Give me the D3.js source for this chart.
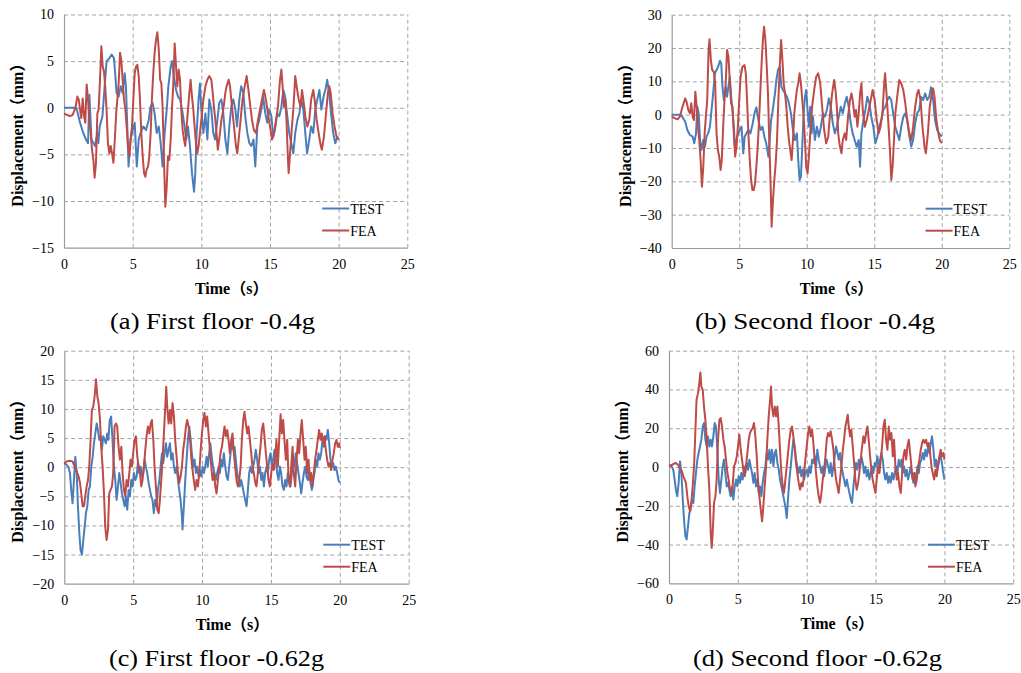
<!DOCTYPE html>
<html lang="en">
<head>
<meta charset="utf-8">
<title>Displacement time histories: TEST vs FEA</title>
<script type="text/javascript" src="https://cdn.jsdelivr.net/npm/d3@7/dist/d3.min.js"></script>
<style type="text/css">
  body { margin: 0; background: #fff; }
  svg text { font-family: "Liberation Serif", "Times New Roman", "Noto Sans CJK SC", serif; fill: #000; }
</style>
</head>
<body>
<script type="text/javascript">

//Series names and tick labels
var seriesNames = ["TEST", "FEA"];
var xTicks = [0, 5, 10, 15, 20, 25];
var yTicksA = [-15, -10, -5, 0, 5, 10];
var yTicksB = [-40, -30, -20, -10, 0, 10, 20, 30];
var yTicksC = [-20, -15, -10, -5, 0, 5, 10, 15, 20];
var yTicksD = [-60, -40, -20, 0, 20, 40, 60];
var captions = ["(a) First floor -0.4g", "(b) Second floor -0.4g",
                "(c) First floor -0.62g", "(d) Second floor -0.62g"];

//[time (s), displacement (mm)]
var testA = [[0,0],[0.9,0],[1.17,-1.6],[1.4,-2.7],[1.6,-3.4],[1.75,-3.8],[1.85,1.4],[2.0,-3.4],[2.26,-4.1],[2.43,-2.7],[2.5,-3.8],[2.6,-2.0],[2.8,-0.9],[2.96,2.3],[3.1,5.0],[3.3,5.3],[3.47,5.7],[3.64,5.3],[3.74,3.4],[3.83,1.6],[3.98,1.2],[4.13,2.3],[4.27,1.6],[4.42,3.7],[4.51,2.3],[4.6,-1.6],[4.7,-6.3],[4.85,-3.4],[5.0,-2.4],[5.15,-1.6],[5.3,-6.3],[5.44,-3.4],[5.58,-2.7],[5.78,-2.0],[5.97,-2.4],[6.17,-1.3],[6.3,0.1],[6.46,0.5],[6.6,-0.6],[6.75,-2.7],[6.9,-2.0],[7.04,-3.8],[7.18,-6.3],[7.33,-2.7],[7.48,-0.2],[7.6,2.3],[7.77,4.4],[7.87,5.0],[8.0,3.4],[8.16,1.9],[8.3,1.2],[8.45,0.9],[8.6,-0.2],[8.74,-1.6],[8.9,-3.4],[9.03,-2.0],[9.17,-4.1],[9.32,-7.0],[9.47,-9.0],[9.56,-7.0],[9.66,-2.7],[9.8,0.9],[9.9,2.6],[10.0,-0.2],[10.15,-2.7],[10.3,-0.6],[10.44,-3.4],[10.58,0.9],[10.73,-0.2],[10.87,-2.7],[11.0,-3.4],[11.17,-1.3],[11.3,0.5],[11.46,0.9],[11.6,-0.6],[11.75,-3.4],[11.9,-4.9],[12.04,-2.0],[12.18,0.1],[12.33,0.9],[12.48,-0.2],[12.6,-2.0],[12.77,0.9],[12.9,2.3],[13.06,1.6],[13.2,-0.9],[13.35,-2.7],[13.5,-3.8],[13.64,-4.1],[13.8,-3.4],[13.93,-6.3],[14.08,-2.0],[14.22,-1.3],[14.37,-0.2],[14.5,1.2],[14.66,-0.6],[14.8,-1.6],[14.95,-0.2],[15.1,-0.9],[15.24,-3.1],[15.4,-2.0],[15.53,-0.6],[15.68,-0.9],[15.83,0.1],[15.97,1.9],[16.1,1.2],[16.26,-0.9],[16.4,-2.7],[16.55,-3.8],[16.7,-4.9],[16.84,-2.7],[17.0,-1.3],[17.14,-0.6],[17.28,0.9],[17.43,-0.2],[17.57,-2.7],[17.7,-4.9],[17.86,-3.4],[18.0,-2.0],[18.15,-2.7],[18.3,-0.2],[18.45,0.9],[18.6,1.9],[18.74,-0.2],[18.9,1.2],[19.03,1.9],[19.17,3.0],[19.3,1.6],[19.47,-0.9],[19.6,-2.7],[19.76,-3.8],[19.9,-3.1],[20,-3.4]];
var feaA = [[0,-0.6],[0.2,-0.75],[0.44,-0.9],[0.63,-0.75],[0.83,0],[0.97,1.2],[1.07,0.9],[1.17,-0.2],[1.26,-1.1],[1.36,1.0],[1.46,-0.9],[1.55,-1.6],[1.65,2.5],[1.75,0.9],[1.84,-1.3],[1.94,-2.7],[2.04,-4.5],[2.14,-5.6],[2.23,-7.5],[2.33,-5.9],[2.43,-0.6],[2.52,-0.2],[2.62,3.0],[2.72,6.6],[2.82,4.4],[2.91,3.9],[3.0,2.3],[3.1,-0.2],[3.2,-3.8],[3.3,-4.9],[3.4,-4.1],[3.5,-4.9],[3.6,-5.9],[3.7,-3.4],[3.8,-0.6],[3.9,1.2],[3.98,2.6],[4.08,5.9],[4.17,5.1],[4.27,3.0],[4.37,0.9],[4.47,-0.2],[4.56,-2.0],[4.66,-4.1],[4.76,-5.2],[4.85,-3.4],[4.95,-2.0],[5.05,0.9],[5.15,3.7],[5.24,4.4],[5.34,4.6],[5.44,3.4],[5.53,0.9],[5.63,-2.7],[5.73,-5.2],[5.83,-7.0],[5.92,-7.4],[6.02,-6.6],[6.12,-6.3],[6.21,-5.2],[6.31,-2.7],[6.4,0.9],[6.5,3.7],[6.6,5.9],[6.7,7.3],[6.8,8.1],[6.9,6.3],[7.0,3.0],[7.09,2.6],[7.18,0.1],[7.28,-5.6],[7.38,-10.6],[7.48,-8.4],[7.57,-5.2],[7.67,-5.6],[7.77,-3.4],[7.86,-0.2],[7.96,2.6],[8.06,6.9],[8.16,4.4],[8.25,2.3],[8.35,4.1],[8.45,3.0],[8.54,-0.2],[8.64,-2.4],[8.74,-3.4],[8.83,-4.1],[8.93,-2.0],[9.03,-0.2],[9.13,1.6],[9.22,3.0],[9.32,1.2],[9.42,-0.2],[9.51,-2.0],[9.61,-3.8],[9.7,-4.9],[9.8,-4.1],[9.9,-2.7],[10.0,-1.3],[10.15,0.9],[10.3,2.3],[10.44,3.0],[10.58,3.4],[10.73,3.0],[10.83,1.6],[10.92,0.1],[11.07,-2.0],[11.2,-4.5],[11.36,-2.7],[11.46,-1.3],[11.6,-0.2],[11.75,1.6],[11.84,2.3],[11.99,3.0],[12.09,2.3],[12.23,0.1],[12.38,-2.0],[12.52,-4.1],[12.62,-4.9],[12.72,-3.4],[12.86,-1.3],[13.0,0.9],[13.16,2.3],[13.3,3.4],[13.4,2.3],[13.54,0.5],[13.69,-1.3],[13.83,-2.4],[13.98,-2.7],[14.13,-1.3],[14.27,-0.2],[14.42,0.9],[14.56,1.9],[14.7,0.9],[14.85,-0.6],[15.0,-2.0],[15.15,-3.4],[15.3,-2.7],[15.44,-1.3],[15.58,0.1],[15.73,3.0],[15.83,4.1],[15.92,2.3],[16.02,0.1],[16.12,0.9],[16.2,-1.3],[16.3,-5.2],[16.36,-7.0],[16.46,-4.9],[16.6,-2.0],[16.7,-0.2],[16.84,3.4],[16.94,2.3],[17.09,0.9],[17.23,0.1],[17.33,1.9],[17.43,0.9],[17.57,-0.9],[17.72,-2.0],[17.86,-1.3],[18.0,0.9],[18.15,1.9],[18.25,0.9],[18.4,-1.3],[18.54,-2.7],[18.7,-4.1],[18.78,-4.5],[18.93,-3.1],[19.08,-0.6],[19.22,1.6],[19.32,2.3],[19.42,1.6],[19.56,-0.6],[19.7,-2.0],[19.85,-3.1],[20,-3.4]];

var testB = [[0,0],[0.7,0],[1.0,-2.1],[1.16,-4.6],[1.35,-6.1],[1.55,-6.6],[1.67,-8.6],[1.8,-5.6],[1.9,2.4],[2.0,0.4],[2.1,-7.6],[2.2,-10.6],[2.34,-7.6],[2.46,-9.6],[2.58,-6.6],[2.7,-5.6],[2.83,-3.6],[2.95,1.4],[3.07,6.4],[3.2,12.4],[3.32,13.4],[3.44,14.4],[3.57,16.2],[3.67,15.4],[3.76,8.4],[3.86,4.4],[4.0,8.4],[4.1,5.4],[4.2,8.4],[4.3,11.4],[4.4,5.4],[4.5,1.4],[4.6,-3.6],[4.7,-10.6],[4.8,-7.6],[4.92,-5.6],[5.04,-4.6],[5.17,-3.6],[5.3,-11.6],[5.4,-6.6],[5.53,-5.6],[5.68,-4.6],[5.83,-5.6],[6.0,-2.6],[6.13,0.4],[6.27,2.2],[6.42,-1.6],[6.57,-4.6],[6.72,-3.6],[6.86,-6.6],[7.0,-8.6],[7.16,-12.6],[7.26,-7.6],[7.36,-1.6],[7.45,0.4],[7.55,3.4],[7.65,6.4],[7.75,10.4],[7.87,13.4],[8.0,14.4],[8.12,8.4],[8.24,7.4],[8.39,6.4],[8.54,5.4],[8.68,3.4],[8.83,0.4],[8.98,-4.6],[9.13,-7.6],[9.27,-5.6],[9.37,-13.6],[9.47,-19.6],[9.57,-18.6],[9.67,-9.6],[9.77,0.4],[9.87,5.4],[9.96,7.4],[10.06,1.4],[10.16,-3.6],[10.26,2.4],[10.36,-5.6],[10.46,-0.6],[10.6,-7.6],[10.75,-3.6],[10.9,-6.6],[11.05,-3.6],[11.2,0.4],[11.34,-0.6],[11.49,1.4],[11.64,4.9],[11.78,2.4],[11.93,-2.6],[12.08,-5.6],[12.23,-3.6],[12.37,-0.6],[12.52,2.4],[12.67,0.4],[12.82,3.4],[12.96,5.4],[13.11,2.4],[13.26,-2.6],[13.4,-5.6],[13.55,-7.6],[13.7,-9.6],[13.85,-7.6],[13.95,-15.6],[14.05,-5.6],[14.2,-1.6],[14.34,1.4],[14.49,5.4],[14.64,3.4],[14.78,-0.6],[14.93,-3.6],[15.08,-8.6],[15.23,-6.6],[15.37,-3.6],[15.52,-1.6],[15.67,1.4],[15.82,2.4],[15.97,4.4],[16.11,5.4],[16.26,4.4],[16.4,0.4],[16.56,-3.6],[16.7,-5.6],[16.85,-7.6],[17.0,-3.6],[17.15,-0.6],[17.3,0.4],[17.44,-1.6],[17.6,-6.6],[17.74,-9.6],[17.88,-7.6],[18.03,-2.6],[18.18,0.4],[18.33,1.4],[18.47,5.4],[18.62,4.4],[18.77,6.4],[18.92,4.4],[19.07,5.4],[19.2,8.2],[19.36,4.4],[19.5,-1.6],[19.66,-4.6],[19.8,-5.6],[20,-6.6]];
var feaB = [[0,-0.6],[0.25,-1.1],[0.44,-1.4],[0.6,-0.6],[0.8,2.4],[1.0,4.9],[1.1,3.9],[1.23,1.4],[1.35,0.4],[1.45,3.4],[1.55,-0.6],[1.65,-1.6],[1.75,6.9],[1.85,2.4],[1.94,-3.6],[2.04,-7.6],[2.14,-13.6],[2.24,-21.6],[2.34,-15.6],[2.44,-5.6],[2.53,-0.6],[2.63,4.4],[2.73,19.4],[2.8,22.6],[2.9,16.4],[3.0,13.4],[3.12,12.9],[3.22,9.4],[3.32,-5.6],[3.42,-10.6],[3.52,-12.6],[3.62,-16.6],[3.71,-13.6],[3.81,-3.6],[3.91,4.4],[4.0,9.4],[4.1,19.4],[4.2,17.4],[4.3,10.4],[4.4,3.4],[4.5,2.4],[4.6,-5.6],[4.7,-12.6],[4.8,-9.6],[4.9,-3.6],[5.0,4.4],[5.1,11.4],[5.24,14.4],[5.39,14.9],[5.49,12.4],[5.58,4.4],[5.68,-5.6],[5.78,-13.6],[5.88,-19.6],[5.98,-22.6],[6.08,-22.6],[6.17,-20.6],[6.27,-15.6],[6.37,-9.6],[6.47,-1.6],[6.57,7.4],[6.67,16.4],[6.77,23.4],[6.84,26.4],[6.94,22.4],[7.04,14.4],[7.13,6.4],[7.23,-8.6],[7.33,-21.6],[7.4,-33.6],[7.5,-25.6],[7.6,-19.6],[7.7,-14.6],[7.8,-7.6],[7.9,4.4],[8.0,14.4],[8.1,22.4],[8.2,16.4],[8.29,9.4],[8.39,6.4],[8.49,2.4],[8.59,-3.6],[8.68,-7.6],[8.78,-10.6],[8.88,-13.6],[8.98,-7.6],[9.08,0.4],[9.18,4.4],[9.27,7.4],[9.37,9.4],[9.47,12.4],[9.57,9.4],[9.67,4.4],[9.77,-0.6],[9.87,-7.6],[9.96,-15.6],[10.06,-17.6],[10.16,-12.6],[10.26,-5.6],[10.4,2.4],[10.55,7.4],[10.7,11.4],[10.85,12.4],[11.0,9.4],[11.14,2.4],[11.29,-4.6],[11.44,-8.6],[11.59,-6.6],[11.73,0.4],[11.88,6.4],[12.03,10.4],[12.13,7.4],[12.23,2.4],[12.33,-5.6],[12.42,-8.6],[12.57,-11.6],[12.67,-7.6],[12.82,-5.6],[12.92,-7.6],[13.06,-0.6],[13.2,4.4],[13.31,6.4],[13.4,4.4],[13.55,-0.6],[13.65,1.4],[13.75,-3.6],[13.85,0.4],[13.95,6.4],[14.05,9.4],[14.15,1.4],[14.3,-3.6],[14.44,-1.6],[14.59,1.4],[14.74,4.4],[14.88,7.4],[15.03,4.4],[15.18,-1.6],[15.33,-5.6],[15.47,-3.6],[15.62,1.4],[15.72,8.4],[15.8,12.4],[15.87,8.4],[15.97,2.4],[16.06,-3.6],[16.16,-10.6],[16.26,-19.6],[16.36,-15.6],[16.46,-7.6],[16.56,0.4],[16.7,5.4],[16.85,10.4],[17.0,9.4],[17.15,7.4],[17.3,3.4],[17.44,-1.6],[17.6,-5.6],[17.74,-7.6],[17.88,-3.6],[18.03,2.4],[18.18,6.4],[18.28,7.4],[18.43,4.4],[18.57,-3.6],[18.72,-9.6],[18.82,-11.6],[18.97,-5.6],[19.11,2.4],[19.26,6.4],[19.36,7.9],[19.46,5.4],[19.6,-1.6],[19.75,-5.6],[19.85,-7.6],[20,-8.6]];

var testC = [[0,0.7],[0.17,0.4],[0.29,0.1],[0.41,-1.0],[0.5,-3.9],[0.6,-6.2],[0.7,-2.2],[0.8,1.8],[0.9,-1.0],[0.99,-6.7],[1.09,-11.3],[1.18,-14.2],[1.28,-15.0],[1.38,-12.5],[1.48,-10.2],[1.57,-7.9],[1.67,-6.7],[1.77,-3.9],[1.86,-3.3],[1.96,0.1],[2.06,1.8],[2.15,4.1],[2.25,5.8],[2.35,7.5],[2.44,6.4],[2.54,4.7],[2.64,5.3],[2.73,3.0],[2.83,5.3],[2.93,4.7],[3.02,4.1],[3.12,5.8],[3.2,4.7],[3.3,8.1],[3.4,8.7],[3.5,4.7],[3.6,0.1],[3.7,-2.2],[3.8,-5.6],[3.9,-3.3],[3.99,-1.0],[4.09,-2.7],[4.18,-4.5],[4.28,-5.6],[4.38,-6.7],[4.47,-5.0],[4.57,-7.3],[4.67,-3.9],[4.76,-5.0],[4.86,-2.2],[4.96,-3.3],[5.05,-1.0],[5.15,-2.2],[5.25,-1.6],[5.34,0.7],[5.44,-1.0],[5.54,0.1],[5.63,-1.6],[5.73,-1.0],[5.83,1.3],[5.92,0.1],[6.02,-1.0],[6.12,-2.7],[6.22,-3.9],[6.31,-5.0],[6.4,-5.6],[6.5,-7.9],[6.6,-5.6],[6.7,-6.7],[6.8,-3.9],[6.9,-2.2],[6.99,0.1],[7.09,2.4],[7.18,0.7],[7.28,2.4],[7.38,4.1],[7.47,1.8],[7.57,3.0],[7.67,4.1],[7.76,1.3],[7.86,2.4],[7.96,0.1],[8.05,-1.0],[8.15,0.1],[8.25,-2.2],[8.34,-3.9],[8.44,-5.6],[8.54,-8.5],[8.58,-10.7],[8.68,-6.7],[8.78,-2.2],[8.88,1.3],[8.97,4.7],[9.07,7.0],[9.17,4.7],[9.26,2.4],[9.36,0.1],[9.46,1.3],[9.55,-1.0],[9.65,0.1],[9.75,-1.6],[9.84,-0.5],[9.94,-1.6],[10.04,0.1],[10.13,-1.0],[10.23,0.1],[10.33,1.8],[10.42,0.1],[10.52,2.4],[10.6,4.1],[10.7,1.8],[10.8,0.1],[10.9,-1.0],[11.0,-2.2],[11.1,-1.0],[11.2,0.1],[11.29,-1.0],[11.39,1.3],[11.49,0.1],[11.58,2.4],[11.68,0.1],[11.78,-1.6],[11.87,-2.2],[11.97,0.1],[12.07,2.4],[12.16,4.7],[12.26,3.0],[12.36,3.5],[12.45,1.3],[12.55,-1.0],[12.65,-2.2],[12.74,-3.3],[12.84,-2.2],[12.94,-3.3],[13.03,-4.5],[13.13,-5.6],[13.23,-6.7],[13.33,-3.9],[13.42,-1.0],[13.52,0.1],[13.62,-1.0],[13.71,0.1],[13.81,1.3],[13.9,3.0],[14.0,1.3],[14.1,-1.0],[14.2,0.1],[14.3,-2.2],[14.39,-1.0],[14.49,-3.3],[14.58,-1.0],[14.68,0.1],[14.78,-1.0],[14.87,1.3],[14.97,2.4],[15.07,0.1],[15.16,1.3],[15.26,3.0],[15.36,1.3],[15.45,-1.0],[15.55,-2.2],[15.65,0.1],[15.74,-1.0],[15.84,-3.3],[15.94,-3.9],[16.03,-2.2],[16.13,-3.3],[16.23,-1.0],[16.32,-2.2],[16.42,-3.3],[16.52,-1.0],[16.6,1.3],[16.7,0.1],[16.8,2.4],[16.9,0.7],[17.0,-1.0],[17.1,-2.7],[17.2,-4.5],[17.29,-2.7],[17.39,-1.0],[17.49,0.1],[17.58,-1.6],[17.68,-2.2],[17.78,-0.5],[17.87,-2.7],[17.97,-3.9],[18.07,-2.2],[18.16,-1.0],[18.26,1.3],[18.36,0.1],[18.45,2.4],[18.55,1.3],[18.65,2.4],[18.74,4.7],[18.84,3.5],[18.94,5.3],[19.03,4.7],[19.13,6.4],[19.23,4.1],[19.32,1.3],[19.42,0.1],[19.52,0.7],[19.61,-0.5],[19.71,0.1],[19.81,-1.0],[19.9,-2.2],[20,-2.7]];
var feaC = [[0,0.6],[0.17,1.0],[0.41,1.1],[0.6,1.0],[0.75,0.1],[0.9,-0.7],[1.04,-1.6],[1.14,-2.7],[1.23,-4.5],[1.33,-6.7],[1.43,-6.7],[1.52,-5.0],[1.62,-3.3],[1.72,-2.2],[1.81,0.1],[1.91,4.7],[2.0,9.8],[2.1,10.4],[2.2,12.1],[2.3,15.1],[2.4,12.1],[2.49,11.0],[2.59,8.1],[2.68,3.5],[2.78,0.1],[2.88,-4.5],[2.97,-10.2],[3.07,-12.5],[3.17,-10.7],[3.26,-4.5],[3.36,-3.9],[3.46,-3.3],[3.55,-1.0],[3.65,7.0],[3.75,7.5],[3.84,7.0],[3.94,3.5],[4.04,1.3],[4.14,3.5],[4.23,-1.0],[4.33,-3.9],[4.43,-5.0],[4.52,-2.2],[4.62,-3.3],[4.72,-1.0],[4.81,1.3],[4.91,0.1],[5.0,2.4],[5.1,4.7],[5.2,5.3],[5.3,1.8],[5.4,0.1],[5.49,-1.0],[5.59,-3.3],[5.68,-2.2],[5.78,0.1],[5.88,3.0],[5.97,5.3],[6.07,7.0],[6.17,5.8],[6.27,7.5],[6.36,8.1],[6.46,4.7],[6.55,0.1],[6.65,-3.3],[6.75,-7.3],[6.85,-7.9],[6.94,-5.6],[7.04,-2.2],[7.13,1.3],[7.23,5.8],[7.33,10.4],[7.4,13.8],[7.47,10.4],[7.57,7.5],[7.67,9.8],[7.76,7.5],[7.86,11.0],[7.96,8.7],[8.05,4.7],[8.15,1.8],[8.25,-1.0],[8.34,-2.7],[8.44,-1.6],[8.54,0.1],[8.63,3.0],[8.73,4.7],[8.83,7.0],[8.92,8.1],[9.02,7.0],[9.12,5.3],[9.21,1.8],[9.31,-0.5],[9.4,-2.2],[9.5,-3.9],[9.6,-2.2],[9.7,-3.3],[9.8,-1.0],[9.9,3.0],[9.99,5.8],[10.09,8.1],[10.18,9.3],[10.28,7.0],[10.37,8.7],[10.47,5.8],[10.57,3.0],[10.67,0.1],[10.76,-2.2],[10.86,-1.0],[10.96,-3.3],[11.05,-4.5],[11.15,-2.2],[11.25,0.1],[11.34,2.4],[11.44,3.5],[11.54,5.3],[11.63,7.0],[11.73,5.3],[11.83,6.4],[11.92,4.7],[12.02,2.4],[12.12,4.7],[12.21,5.8],[12.31,2.4],[12.4,0.1],[12.5,-2.2],[12.6,-3.3],[12.7,-2.2],[12.8,0.1],[12.89,4.7],[12.99,8.1],[13.08,9.5],[13.18,7.5],[13.28,5.8],[13.37,7.0],[13.47,4.7],[13.57,2.4],[13.66,0.1],[13.76,-1.0],[13.86,-2.7],[13.95,-3.3],[14.05,-1.0],[14.15,1.3],[14.24,3.5],[14.34,6.4],[14.44,7.5],[14.53,5.3],[14.63,2.4],[14.73,0.1],[14.82,-2.2],[14.92,-3.3],[15.02,-1.0],[15.11,0.7],[15.21,-0.5],[15.31,1.8],[15.4,4.7],[15.5,0.1],[15.6,4.7],[15.7,9.1],[15.79,5.8],[15.89,8.1],[15.98,4.7],[16.08,1.3],[16.18,4.7],[16.28,-2.2],[16.37,-3.3],[16.47,0.1],[16.57,3.5],[16.66,-1.0],[16.76,-3.3],[16.86,1.3],[16.96,4.7],[17.05,2.4],[17.15,5.8],[17.24,8.1],[17.34,4.7],[17.44,1.3],[17.53,3.5],[17.63,-1.0],[17.73,1.3],[17.82,-2.2],[17.92,-1.0],[18.02,-3.3],[18.11,-1.0],[18.21,1.3],[18.31,3.0],[18.4,4.7],[18.5,6.4],[18.6,4.7],[18.69,5.8],[18.79,4.1],[18.89,5.3],[18.98,3.0],[19.08,1.3],[19.18,0.1],[19.27,0.7],[19.37,-0.5],[19.47,1.3],[19.56,2.4],[19.66,4.1],[19.76,4.7],[19.85,3.5],[19.95,4.1],[20,3.3]];

var testD = [[0,0.7],[0.19,0.3],[0.31,-1.4],[0.41,-6.5],[0.5,-11.7],[0.6,-15.1],[0.7,-8.2],[0.8,2.9],[0.9,-3.1],[1.0,-16.8],[1.09,-27.1],[1.19,-35.7],[1.28,-37.4],[1.38,-30.6],[1.48,-23.7],[1.57,-22.0],[1.67,-16.8],[1.77,-18.5],[1.86,-10.0],[1.96,-3.1],[2.06,3.8],[2.15,7.2],[2.25,10.6],[2.35,14.1],[2.45,20.9],[2.54,22.7],[2.64,14.1],[2.74,10.6],[2.83,15.8],[2.93,10.6],[3.03,14.1],[3.12,10.6],[3.22,15.8],[3.32,22.7],[3.41,20.9],[3.51,8.9],[3.61,-6.5],[3.7,-13.4],[3.8,-6.5],[3.9,0.3],[3.99,3.8],[4.09,-3.1],[4.19,-10.0],[4.29,-8.2],[4.38,-11.7],[4.48,-15.1],[4.58,-10.0],[4.67,-16.8],[4.77,-10.0],[4.87,-6.5],[4.96,-10.0],[5.06,-4.8],[5.16,-8.2],[5.25,-3.1],[5.35,-6.5],[5.45,0.3],[5.54,-3.1],[5.64,2.1],[5.74,-1.4],[5.84,3.8],[5.93,0.3],[6.03,-3.1],[6.13,-8.2],[6.22,-3.1],[6.32,-10.0],[6.42,-6.5],[6.51,-13.4],[6.61,-10.0],[6.71,-15.1],[6.8,-8.2],[6.9,-3.1],[7.0,0.3],[7.09,7.2],[7.19,3.8],[7.29,8.9],[7.38,2.1],[7.48,8.9],[7.58,0.3],[7.68,7.2],[7.77,8.9],[7.87,2.1],[7.97,-1.4],[8.06,-6.5],[8.16,-10.0],[8.26,-13.4],[8.35,-16.8],[8.45,-20.3],[8.55,-26.3],[8.64,-16.8],[8.74,-6.5],[8.84,0.3],[8.93,7.2],[9.03,14.1],[9.13,10.6],[9.22,3.8],[9.32,0.3],[9.42,-3.1],[9.52,0.3],[9.61,-4.8],[9.71,-1.4],[9.81,-6.5],[9.9,-3.1],[10.0,-1.4],[10.1,-4.8],[10.19,0.3],[10.29,-3.1],[10.39,3.8],[10.48,2.1],[10.58,5.5],[10.68,0.3],[10.77,8.9],[10.87,3.8],[10.97,0.3],[11.07,-3.1],[11.16,0.3],[11.26,-4.8],[11.36,0.3],[11.45,3.8],[11.55,0.3],[11.65,-3.1],[11.74,2.1],[11.84,-4.8],[11.94,0.3],[12.03,5.5],[12.13,10.6],[12.23,7.2],[12.32,3.8],[12.42,7.2],[12.52,0.3],[12.62,-3.1],[12.71,-6.5],[12.81,-10.0],[12.91,-6.5],[13.0,-10.0],[13.1,-13.4],[13.2,-16.8],[13.29,-18.5],[13.39,-10.0],[13.49,-3.1],[13.58,2.1],[13.68,-1.4],[13.78,3.8],[13.87,0.3],[13.97,5.5],[14.07,2.1],[14.16,-3.1],[14.26,0.3],[14.36,-4.8],[14.46,-1.4],[14.55,-6.5],[14.65,-3.1],[14.75,0.3],[14.84,-3.1],[14.94,2.1],[15.04,0.3],[15.13,5.5],[15.23,0.3],[15.33,3.8],[15.42,7.2],[15.52,3.8],[15.62,-3.1],[15.71,-6.5],[15.81,-3.1],[15.91,-8.2],[16.0,-4.8],[16.1,-8.2],[16.2,-3.1],[16.3,-6.5],[16.39,-3.1],[16.49,0.3],[16.59,-3.1],[16.68,3.8],[16.78,0.3],[16.88,3.8],[16.97,-3.1],[17.07,0.3],[17.17,-4.8],[17.26,-1.4],[17.36,-6.5],[17.46,-3.1],[17.55,0.3],[17.65,-4.8],[17.75,-8.2],[17.84,-3.1],[17.94,-6.5],[18.04,0.3],[18.14,-3.1],[18.23,2.1],[18.33,3.8],[18.43,7.2],[18.52,3.8],[18.62,8.9],[18.72,5.5],[18.81,10.6],[18.91,7.2],[19.01,12.4],[19.1,15.8],[19.2,8.9],[19.3,0.3],[19.39,3.8],[19.49,-1.4],[19.59,2.1],[19.68,7.2],[19.78,3.8],[19.88,-1.4],[20,-6.5]];
var feaD = [[0,0.7],[0.19,1.0],[0.36,1.7],[0.5,2.1],[0.65,1.2],[0.8,-0.5],[0.94,-2.2],[1.04,-4.8],[1.14,-6.5],[1.23,-8.2],[1.33,-15.1],[1.43,-20.3],[1.53,-22.8],[1.62,-18.5],[1.72,-10.0],[1.82,0.3],[1.91,17.5],[2.0,34.7],[2.11,38.1],[2.2,43.3],[2.28,48.8],[2.35,41.5],[2.45,39.8],[2.54,31.2],[2.64,24.4],[2.74,14.1],[2.83,0.3],[2.93,-11.7],[3.03,-34.0],[3.1,-41.7],[3.17,-34.0],[3.27,-18.5],[3.37,-15.1],[3.46,-6.5],[3.56,14.1],[3.66,24.4],[3.75,25.2],[3.85,20.9],[3.95,14.1],[4.04,10.6],[4.14,3.8],[4.24,-3.1],[4.33,-6.5],[4.43,-11.7],[4.53,-13.4],[4.62,-10.0],[4.72,0.3],[4.82,2.1],[4.92,5.5],[5.01,10.6],[5.11,16.7],[5.21,8.9],[5.3,3.8],[5.4,-1.4],[5.5,-4.8],[5.59,0.3],[5.69,7.2],[5.79,14.1],[5.88,17.5],[5.98,19.2],[6.08,20.1],[6.17,22.7],[6.27,15.8],[6.37,5.5],[6.46,-6.5],[6.56,-15.1],[6.66,-22.0],[6.76,-28.0],[6.85,-20.3],[6.95,-10.0],[7.05,0.3],[7.14,14.1],[7.24,26.1],[7.34,34.7],[7.41,41.5],[7.48,31.2],[7.58,26.1],[7.68,31.2],[7.77,26.1],[7.87,31.2],[7.97,20.9],[8.06,8.9],[8.16,-3.1],[8.26,-10.0],[8.35,-13.4],[8.45,-6.5],[8.55,0.3],[8.64,7.2],[8.74,14.1],[8.84,19.2],[8.93,20.9],[9.03,15.8],[9.13,8.9],[9.22,2.1],[9.32,-3.1],[9.42,-8.2],[9.52,-11.7],[9.61,-8.2],[9.71,-10.0],[9.81,-3.1],[9.9,3.8],[10.0,10.6],[10.1,17.5],[10.19,20.9],[10.29,15.8],[10.39,19.2],[10.48,12.4],[10.58,3.8],[10.68,-3.1],[10.77,-10.0],[10.87,-15.1],[10.97,-18.5],[11.07,-13.4],[11.16,-6.5],[11.26,-1.4],[11.36,5.5],[11.45,14.1],[11.55,17.5],[11.65,15.8],[11.74,18.4],[11.84,14.1],[11.94,8.9],[12.03,0.3],[12.13,-6.5],[12.23,-10.0],[12.32,-13.4],[12.42,-6.5],[12.52,0.3],[12.62,8.9],[12.71,14.1],[12.81,20.9],[12.91,24.4],[12.98,27.0],[13.05,20.9],[13.15,15.8],[13.24,19.2],[13.34,10.6],[13.44,2.1],[13.53,-6.5],[13.63,-11.7],[13.73,-8.2],[13.82,-3.1],[13.92,3.8],[14.02,10.6],[14.12,15.8],[14.21,12.4],[14.31,17.5],[14.41,20.9],[14.5,14.1],[14.6,5.5],[14.7,-1.4],[14.79,-6.5],[14.89,-10.0],[14.99,-13.4],[15.08,-6.5],[15.18,0.3],[15.28,-3.1],[15.38,3.8],[15.47,10.6],[15.57,20.9],[15.67,24.4],[15.76,14.1],[15.86,8.9],[15.96,20.9],[16.05,14.1],[16.15,17.5],[16.25,5.5],[16.34,14.1],[16.44,0.3],[16.54,-6.5],[16.63,-3.1],[16.73,-10.0],[16.83,-13.4],[16.93,-3.1],[17.02,5.5],[17.12,8.9],[17.22,3.8],[17.31,10.6],[17.41,14.1],[17.51,7.2],[17.6,0.3],[17.7,-6.5],[17.8,-3.1],[17.89,-10.0],[17.99,-6.5],[18.09,0.3],[18.18,3.8],[18.28,8.9],[18.38,12.4],[18.47,14.1],[18.57,12.4],[18.67,14.1],[18.77,10.6],[18.86,12.4],[18.96,7.2],[19.06,0.3],[19.15,-3.1],[19.25,-6.5],[19.35,-1.4],[19.44,-4.8],[19.54,2.1],[19.64,5.5],[19.73,8.9],[19.83,5.5],[19.93,7.2],[20,3.8]];

//Width and height of the page
var w = 1021;
var h = 673;

//Colours
var testColor = "#4a7ebb";
var feaColor = "#be4b48";
var gridColor = "#a3a3a3";

//Plot-area boxes of the four panels, and caption spans (pixels)
var boxes = [
	{ left: 64,    right: 407.3,  top: 14.5,  bottom: 247.7, capX: 110, capW: 205, capY: 329 },
	{ left: 671.7, right: 1009.3, top: 14.7,  bottom: 248,   capX: 695, capW: 240, capY: 329 },
	{ left: 64.3,  right: 408.7,  top: 350.7, bottom: 583.7, capX: 109, capW: 215, capY: 666 },
	{ left: 669,   right: 1013.3, top: 350.7, bottom: 583.3, capX: 693, capW: 249, capY: 666 }
];

var panelData = [
	{ yTicks: yTicksA, series: [testA, feaA] },
	{ yTicks: yTicksB, series: [testB, feaB] },
	{ yTicks: yTicksC, series: [testC, feaC] },
	{ yTicks: yTicksD, series: [testD, feaD] }
];

//Create SVG element
var svg = d3.select("body")
			.append("svg")
			.attr("width", w)
			.attr("height", h);

svg.append("rect")
	.attr("width", w)
	.attr("height", h)
	.attr("fill", "#fff");

panelData.forEach(function(pd, i) {
	var b = boxes[i];
	var yTicks = pd.yTicks;
	var pw = b.right - b.left;
	var ph = b.bottom - b.top;

	var g = svg.append("g")
			   .attr("transform", "translate(" + b.left + "," + b.top + ")");

	var xScale = d3.scaleLinear()
				   .domain([xTicks[0], xTicks[xTicks.length - 1]])
				   .range([0, pw]);

	var yScale = d3.scaleLinear()
				   .domain([yTicks[0], yTicks[yTicks.length - 1]])
				   .range([ph, 0]);

	//Dashed grid lines
	var yGrid = d3.axisLeft(yScale)
				  .tickValues(yTicks.slice(1))
				  .tickSize(-pw)
				  .tickFormat("");
	g.append("g")
		.attr("class", "grid")
		.call(yGrid);

	var xGrid = d3.axisBottom(xScale)
				  .tickValues(xTicks.slice(1))
				  .tickSize(-ph)
				  .tickFormat("");
	g.append("g")
		.attr("class", "grid")
		.attr("transform", "translate(0," + ph + ")")
		.call(xGrid);

	g.selectAll(".grid .domain").remove();
	g.selectAll(".grid line")
		.attr("stroke", gridColor)
		.attr("stroke-width", 1)
		.attr("stroke-dasharray", "4,3");

	//Y axis with labels
	var yAxis = d3.axisLeft(yScale)
				  .tickValues(yTicks)
				  .tickSize(0)
				  .tickPadding(10);
	g.append("g")
		.attr("class", "axis")
		.call(yAxis);

	//X axis with labels
	var xAxis = d3.axisBottom(xScale)
				  .tickValues(xTicks)
				  .tickSize(0)
				  .tickPadding(11);
	g.append("g")
		.attr("class", "axis")
		.attr("transform", "translate(0," + ph + ")")
		.call(xAxis);

	g.selectAll(".axis .domain")
		.attr("stroke", "#9a9a9a")
		.attr("stroke-width", 1.2);
	g.selectAll(".axis text")
		.attr("font-size", "14px")
		.attr("fill", "#000");

	//Lines: TEST first, FEA on top
	var line = d3.line()
				 .x(function(d) { return xScale(d[0]); })
				 .y(function(d) { return yScale(d[1]); });

	var colors = [testColor, feaColor];
	pd.series.forEach(function(s, k) {
		g.append("path")
			.datum(s)
			.attr("fill", "none")
			.attr("stroke", colors[k])
			.attr("stroke-width", 2)
			.attr("stroke-linejoin", "round")
			.attr("d", line);
	});

	//Legend
	var lx = pw * 0.752;
	[194, 216].forEach(function(ly, k) {
		g.append("line")
			.attr("x1", lx)
			.attr("x2", lx + 27)
			.attr("y1", ly)
			.attr("y2", ly)
			.attr("stroke", colors[k])
			.attr("stroke-width", 2);
		g.append("text")
			.attr("x", lx + 28)
			.attr("y", ly + 5)
			.attr("font-size", "14px")
			.text(seriesNames[k]);
	});

	//Axis titles
	g.append("text")
		.attr("x", pw / 2 - 4)
		.attr("y", ph + 46)
		.attr("text-anchor", "middle")
		.attr("font-size", "16px")
		.attr("font-weight", "bold")
		.text("Time（s）");

	g.append("text")
		.attr("transform", "translate(-41," + (ph / 2) + ") rotate(-90)")
		.attr("text-anchor", "middle")
		.attr("font-size", "16px")
		.attr("font-weight", "bold")
		.text("Displacement（mm）");

	//Caption under the panel
	svg.append("text")
		.attr("x", b.capX)
		.attr("y", b.capY)
		.attr("font-size", "24px")
		.attr("textLength", b.capW)
		.attr("lengthAdjust", "spacingAndGlyphs")
		.text(captions[i]);
});

</script>
</body>
</html>
